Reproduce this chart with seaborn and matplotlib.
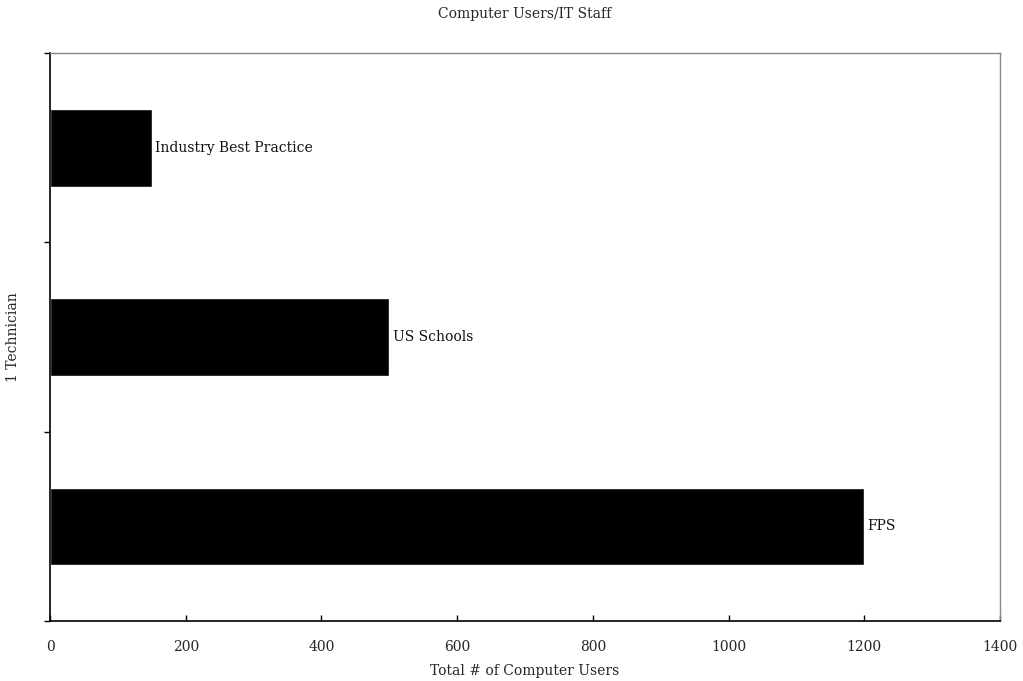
import matplotlib
matplotlib.use("Agg")
import matplotlib.pyplot as plt
import seaborn as sns
import pandas as pd

# values
groups = ["Industry Best Practice", "US Schools", "FPS"]
users = [150, 500, 1200]
x_ticks = [0, 200, 400, 600, 800, 1000, 1200, 1400]

df = pd.DataFrame({"group": groups, "users": users})

sns.set_theme(style="white")
plt.rcParams['font.family'] = ['DejaVu Serif']

fig = plt.figure(figsize=(10.23, 6.81), dpi=100)
ax = fig.add_axes([0.0489, 0.0881, 0.9286, 0.834])

sns.barplot(data=df, x="users", y="group", order=groups, color="black",
            orient="h", width=0.41, saturation=1, ax=ax)

for i, (g, v) in enumerate(zip(groups, users)):
    ax.text(v + 5, i, g, va="center", ha="left", fontsize=10, color="#111111")

ax.set_xlim(0, 1400)
ax.set_ylim(2.5, -0.5)
ax.set_xticks(x_ticks)
ax.set_xticklabels([str(t) for t in x_ticks], fontsize=10)
ax.set_yticks([-0.5, 0.5, 1.5, 2.5])
ax.set_yticklabels([])
ax.tick_params(axis="x", direction="in", length=4, width=1, color="black", pad=14, bottom=True)
ax.tick_params(axis="y", direction="out", length=4, width=1, color="black", left=True)

for s in ["left", "bottom"]:
    ax.spines[s].set_color("black")
    ax.spines[s].set_linewidth(1.2)
for s in ["top", "right"]:
    ax.spines[s].set_color("#888888")
    ax.spines[s].set_linewidth(1)

ax.set_xlabel("Total # of Computer Users", fontsize=10)
ax.xaxis.set_label_coords(0.5, -0.075)
ax.set_ylabel("1 Technician", fontsize=10)
ax.yaxis.set_label_coords(-0.032, 0.5)
ax.set_title("Computer Users/IT Staff", fontsize=10, pad=25)

plt.savefig("out.png", dpi=100)
